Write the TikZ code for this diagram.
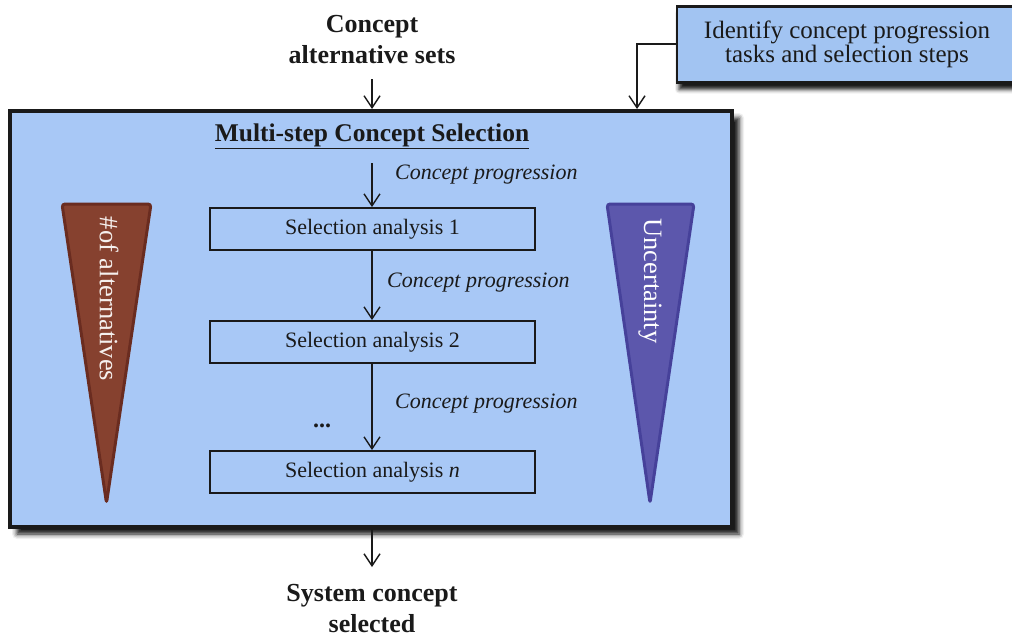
\documentclass[tikz,border=0pt]{standalone}
\usepackage{fontspec}
\setmainfont{Liberation Serif}
\usetikzlibrary{arrows.meta,shadows.blur}
\definecolor{panel}{HTML}{A8C8F6}
\definecolor{panelB}{HTML}{A2C4F2}
\definecolor{brownfill}{HTML}{86412F}
\definecolor{brownedge}{HTML}{6A2C20}
\definecolor{violetfill}{HTML}{5C57AC}
\definecolor{violetedge}{HTML}{46419A}
\definecolor{ink}{HTML}{1A1A1A}
\begin{document}
\begin{tikzpicture}[x=1pt,y=-1pt,
  arr/.style={draw=ink, line width=1.4pt, -{Straight Barb[length=12pt,width=16pt,line width=1.4pt]}},
  biglabel/.style={align=center, inner sep=0pt, text=ink, font=\fontsize{26pt}{31pt}\selectfont\bfseries},
  mainbox/.style={draw=ink, line width=4pt, fill=panel,
    blur shadow={shadow xshift=7pt, shadow yshift=-7pt, shadow blur radius=5pt, shadow opacity=95}},
  taskbox/.style={draw=ink, line width=2.5pt, fill=panelB, align=center, text=ink,
    font=\fontsize{25pt}{23.5pt}\selectfont,
    blur shadow={shadow xshift=2pt, shadow yshift=-7pt, shadow blur radius=4pt, shadow opacity=90}},
  stepbox/.style={draw=ink, line width=1.8pt, minimum width=325pt, minimum height=42pt,
    inner sep=0pt, text=ink, font=\fontsize{22pt}{26pt}\selectfont},
  proglabel/.style={anchor=west, inner sep=0pt, text=ink, font=\fontsize{22pt}{26pt}\selectfont\itshape},
  wedgetext/.style={rotate=-90, inner sep=0pt, font=\fontsize{26.5pt}{30pt}\selectfont}
]
\useasboundingbox (0,0) rectangle (1012,638);

% outer frame of the selection process
\node[mainbox, minimum width=722pt, minimum height=416pt, inner sep=0pt] (main) at (371,319) {};

% planning box at the top right
\node[taskbox, minimum width=340pt, minimum height=76pt, inner sep=0pt] (plan) at (847,44.5)
  {Identify concept progression\\ tasks and selection steps};
\coordinate (planbend) at (637,44);
\draw[arr] (plan.west |- planbend) -- (planbend) -- (planbend |- main.north);

% input and output labels
\node[biglabel] (inputs) at (372,40) {Concept\\alternative sets};
\coordinate (instart) at (372,79);
\draw[arr] (instart) -- (instart |- main.north);

\node[biglabel] (output) at (372,609) {System concept\\selected};
\coordinate (outend) at (372,567);
\draw[arr] (main.south -| outend) -- (outend);

% title
\node[inner sep=0pt, text=ink, font=\fontsize{25.5pt}{30pt}\selectfont\bfseries] (title) at (372,136)
  {\underline{Multi-step\ Concept Selection}};

% selection steps
\node[stepbox] (s1) at (372.5,229) {Selection analysis 1};
\node[stepbox] (s2) at (372.5,342) {Selection analysis 2};
\node[stepbox] (sn) at (372.5,472) {Selection analysis \textit{n}};

\coordinate (progstart) at (372,163);
\draw[arr] (progstart) -- (progstart |- s1.north);
\draw[arr] (s1.south -| progstart) -- (s2.north -| progstart);
\draw[arr] (s2.south -| progstart) -- (sn.north -| progstart);

\node[proglabel] (p1) at (395,175) {Concept progression};
\node[proglabel] (p2) at (387,283) {Concept progression};
\node[proglabel] (p3) at (395,404) {Concept progression};
\node[inner sep=0pt, text=ink, font=\fontsize{24pt}{28pt}\selectfont\bfseries] (dots) at (322,426) {...};

% wedges: number of alternatives and uncertainty
\draw[draw=brownedge, fill=brownfill, line width=3pt, rounded corners=3pt, line join=round]
  (62,204) -- (151,204) -- (106.5,503) -- cycle;
\node[wedgetext, text=white!92!brownfill] (alts) at (109,299) {\#of alternatives};

\draw[draw=violetedge, fill=violetfill, line width=3pt, rounded corners=3pt, line join=round]
  (607,204) -- (694,204) -- (650,503) -- cycle;
\node[wedgetext, text=white] (unc) at (650,281) {Uncertainty};
\end{tikzpicture}
\end{document}
